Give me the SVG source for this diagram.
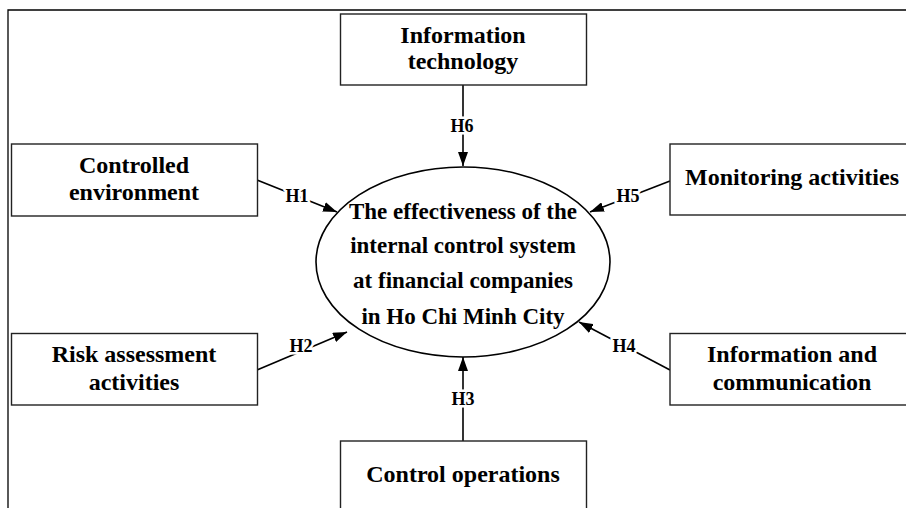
<svg xmlns="http://www.w3.org/2000/svg" width="906" height="508" viewBox="0 0 906 508">
<defs>
<style>
.box{fill:#fff;stroke:#222;stroke-width:1.4}
.t{font-family:"Liberation Serif","Times New Roman",serif;font-weight:bold;font-size:24px;fill:#000;text-anchor:middle}
.e{font-size:23px}
.lbl{font-family:"Liberation Serif","Times New Roman",serif;font-weight:bold;font-size:18px;fill:#000;text-anchor:middle;stroke:#fff;stroke-width:5;paint-order:stroke;stroke-linejoin:round}
.c{stroke:#000;stroke-width:1.6;fill:none;marker-end:url(#ah)}
</style>
<marker id="ah" viewBox="0 0 14 10" refX="14" refY="5" markerWidth="14" markerHeight="10" markerUnits="userSpaceOnUse" orient="auto">
<path d="M0,0 L14,5 L0,10 Z" fill="#000"/>
</marker>
</defs>
<rect width="906" height="508" fill="#fff"/>
<g id="frame">
<path d="M8,508 L8,10 L906,10" fill="none" stroke="#000" stroke-width="1.3"/>
</g>
<g id="connectors">
<line class="c" x1="463" y1="85" x2="463" y2="166"/>
<line class="c" x1="463" y1="441" x2="463" y2="357"/>
<line class="c" x1="257" y1="180" x2="337" y2="212"/>
<line class="c" x1="257" y1="370" x2="347" y2="332"/>
<line class="c" x1="670" y1="181" x2="590" y2="212"/>
<line class="c" x1="670" y1="370" x2="579" y2="322"/>
<text class="lbl" x="462" y="132">H6</text>
<text class="lbl" x="463" y="405">H3</text>
<text class="lbl" x="297" y="202">H1</text>
<text class="lbl" x="301" y="352">H2</text>
<text class="lbl" x="628" y="202">H5</text>
<text class="lbl" x="624" y="352">H4</text>
</g>
<g id="center">
<ellipse cx="463" cy="262" rx="147" ry="95" fill="#fff" stroke="#000" stroke-width="1.6"/>
<text class="t e" x="463" y="219">The effectiveness of the</text>
<text class="t e" x="463" y="253">internal control system</text>
<text class="t e" x="463" y="288">at financial companies</text>
<text class="t e" x="463" y="324">in Ho Chi Minh City</text>
</g>
<g id="it">
<rect class="box" x="340.5" y="14" width="246" height="71"/>
<text class="t" x="463" y="43">Information</text>
<text class="t" x="463" y="69">technology</text>
</g>
<g id="ce">
<rect class="box" x="11.5" y="144" width="246" height="72"/>
<text class="t" x="134" y="173">Controlled</text>
<text class="t" x="134" y="200">environment</text>
</g>
<g id="ma">
<rect class="box" x="670" y="144" width="240" height="71"/>
<text class="t" x="792" y="185">Monitoring activities</text>
</g>
<g id="ra">
<rect class="box" x="11.5" y="333.5" width="246" height="71.5"/>
<text class="t" x="134" y="362">Risk assessment</text>
<text class="t" x="134" y="390">activities</text>
</g>
<g id="ic">
<rect class="box" x="670" y="333.5" width="240" height="71.5"/>
<text class="t" x="792" y="362">Information and</text>
<text class="t" x="792" y="390">communication</text>
</g>
<g id="co">
<rect class="box" x="340.5" y="441" width="246" height="80"/>
<text class="t" x="463" y="482">Control operations</text>
</g>
</svg>
